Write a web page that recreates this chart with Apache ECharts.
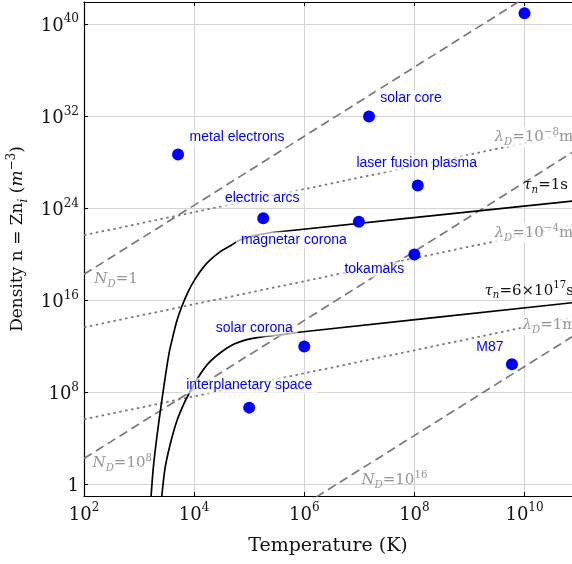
<!DOCTYPE html>
<html><head><meta charset="utf-8">
<script src="https://cdn.jsdelivr.net/npm/echarts@6/dist/echarts.min.js"></script>
<style>html,body{margin:0;padding:0;background:#fff}#c{width:572px;height:564px}</style>
</head><body><div id="c"></div>
<script>
// ---- data ----
const pointNames = ['metal electrons','electric arcs','solar core','laser fusion plasma','magnetar corona','tokamaks','solar corona','interplanetary space','M87',''];
const pointT = [5.1e3, 1.8e5, 1.5e7, 1.15e8, 9.8e6, 1e8, 1e6, 1e5, 5.9e9, 1e10];
const pointN = [5e28, 1.4e23, 1e32, 1e26, 7e22, 1e20, 1e12, 5e6, 3e10, 9e40];

// Debye-number lines (N_D)
const nd1T = [100, 1e10];      const nd1N = [1.9e18, 1.9e42];
const nd8T = [100, 7.3e10];    const nd8N = [190, 7.2e28];
const nd16T = [1e6, 7.3e10];   const nd16N = [1.9e-2, 7.2e12];
// Debye-length lines (lambda_D)
const ldm8T = [100, 7.3e10];   const ldm8N = [4.8e21, 3.5e30];
const ldm4T = [100, 7.3e10];   const ldm4N = [4.8e13, 3.5e22];
const ld0T = [100, 7.3e10];    const ld0N = [4.8e5, 3.5e14];
// tau_n curves
const tau1T = [1.65e3, 1.8e3, 2.0e3, 2.3e3, 2.85e3, 3.5e3, 3.9e3, 4.8e3, 5.95e3, 7.8e3, 1.06e4, 1.69e4, 2.95e4, 4.8e4, 6.8e4, 1.2e5, 2.4e5, 7.3e10];
const tau1N = [9e-2, 2e1, 2e3, 3.5e5, 5e8, 2.6e11, 2.6e12, 1.45e14, 2.9e15, 5.9e16, 8.5e17, 1.7e19, 1.7e20, 6.8e20, 1.8e21, 4.2e21, 7.8e21, 4.4e24];
const tau2T = [2.58e3, 2.96e3, 3.65e3, 4.8e3, 6.35e3, 8.4e3, 1.15e4, 1.81e4, 3.16e4, 5.2e4, 8.4e4, 1.6e5, 3.4e5, 9.6e5, 7.3e10];
const tau2N = [9e-2, 26, 2.8e3, 3e5, 8.3e6, 1.2e8, 1.74e9, 3.5e10, 3.6e11, 1.6e12, 3.7e12, 6.6e12, 1.02e13, 1.95e13, 6.5e15];

// annotation texts and their anchor points (data space)
const annoTexts = ['{i|N}{sub|D}{r|=1}', '{i|N}{sub|D}{r|=10}{sup|8}', '{i|N}{sub|D}{r|=10}{sup|16}',
  '{i|λ}{sub|D}{r|=10}{sup|−8}{r|m}', '{i|λ}{sub|D}{r|=10}{sup|−4}{r|m}', '{i|λ}{sub|D}{r|=1m}',
  '{ti|τ}{tsub|n}{t|=1s}', '{ti|τ}{tsub|n}{t|=6×10}{tsup|17}{t|s}'];
const annoT = [151, 140, 1.07e7, 2.57e9, 2.57e9, 8.3e9, 9.3e9, 1.84e9];
const annoN = [7.4e17, 77, 2.6, 1.6e30, 7.4e21, 7.5e13, 1.05e26, 7.2e16];
const annoBg = [false, false, false, true, true, true, false, false];

// axis ticks
const xTickValues = [1e2, 1e4, 1e6, 1e8, 1e10];
const xTickExps = ['2', '4', '6', '8', '10'];
const yTickValues = [1, 1e8, 1e16, 1e24, 1e32, 1e40];
const yTickExps = ['', '8', '16', '24', '32', '40'];

// ---- styling / layout ----
const labelOffsets = [[59,-17],[-1,-20],[42,-18],[-1,-22],[-65,18],[-40,15],[-50,-18],[0,-22],[-22,-17],[0,-22]];
const SERIF = 'DejaVu Serif';
const SANS = 'Liberation Sans';

function zip(a, b) { return a.map((v, i) => [v, b[i]]); }
function findIdx(vals, v) {
  for (let i = 0; i < vals.length; i++) if (Math.abs(Math.log10(v) - Math.log10(vals[i])) < 1e-6) return i;
  return -1;
}
const tickRich = {
  b: { fontFamily: SERIF, fontSize: 18, lineHeight: 22, verticalAlign: 'bottom', color: '#111' },
  s: { fontFamily: SERIF, fontSize: 12, lineHeight: 12, verticalAlign: 'top', color: '#111' }
};
const annoRich = (col, fs) => ({
  r: { fontFamily: SERIF, fontSize: fs, lineHeight: 20, color: col },
  i: { fontFamily: SERIF, fontSize: fs, lineHeight: 20, fontStyle: 'italic', color: col },
  sub: { fontFamily: SERIF, fontSize: fs * 0.68, lineHeight: 12, verticalAlign: 'bottom', fontStyle: 'italic', color: col },
  sup: { fontFamily: SERIF, fontSize: fs * 0.68, lineHeight: 12, verticalAlign: 'top', color: col }
});
const gRich = annoRich('#969696', 15);
const tRich = annoRich('#111', 15);
const rich = Object.assign({}, gRich, {
  t: tRich.r, ti: tRich.i, tsub: tRich.sub, tsup: tRich.sup
});

const dashed = { color: '#7a7a7a', width: 1.7, type: [9, 5] };
const dotted = { color: '#7a7a7a', width: 1.8, type: [2.5, 3.5] };
const solid = { color: '#000', width: 1.7 };

function lineSeries(T, N, style, smooth) {
  return { type: 'line', data: zip(T, N), showSymbol: false, symbol: 'none', lineStyle: style,
           smooth: smooth ? 0.25 : false, clip: true, z: 2, silent: true, animation: false };
}

const chart = echarts.init(document.getElementById('c'), null, { renderer: 'canvas' });
chart.setOption({
  animation: false,
  backgroundColor: '#fff',
  grid: { left: 84, right: 0, top: 2, bottom: 68, containLabel: false, outerBoundsMode: 'none' },
  xAxis: [{
    type: 'log', logBase: 10, min: 100, max: 7.28e10, position: 'bottom',
    name: 'Temperature (K)', nameLocation: 'middle', nameGap: 41,
    nameTextStyle: { fontFamily: SERIF, fontSize: 19, color: '#111' },
    axisLine: { show: true, lineStyle: { color: '#000', width: 1.2 } },
    axisTick: { show: true, inside: true, length: 4, customValues: xTickValues, lineStyle: { color: '#000' } },
    axisLabel: { show: true, margin: 6, customValues: xTickValues, rich: tickRich,
      formatter: v => { const k = findIdx(xTickValues, v); return k < 0 ? '' : '{b|10}{s|' + xTickExps[k] + '}'; } },
    splitLine: { show: true, lineStyle: { color: '#d4d4d4', width: 1 } },
    minorTick: { show: false }, minorSplitLine: { show: false }
  }, {
    type: 'log', logBase: 10, min: 100, max: 7.28e10, position: 'top',
    axisLine: { show: true, lineStyle: { color: '#000', width: 1.2 } },
    axisTick: { show: true, inside: true, length: 4, customValues: xTickValues, lineStyle: { color: '#000' } },
    axisLabel: { show: false }, splitLine: { show: false }
  }],
  yAxis: {
    type: 'log', logBase: 10, min: 0.105, max: 8.7e41,
    name: '{r|Density n = Zn}{i|i}{r| (}{m|m}{sup|−3}{r|)}', nameLocation: 'middle', nameGap: 42, nameRotate: 90,
    nameTextStyle: { padding: [0, 0, 0, 20], rich: {
      r: { fontFamily: SERIF, fontSize: 17, lineHeight: 24, color: '#111' },
      m: { fontFamily: SERIF, fontSize: 17, lineHeight: 24, fontStyle: 'italic', color: '#111' },
      i: { fontFamily: SERIF, fontSize: 12, lineHeight: 16, fontStyle: 'italic', verticalAlign: 'bottom', color: '#111' },
      sup: { fontFamily: SERIF, fontSize: 12, lineHeight: 14, verticalAlign: 'top', color: '#111' }
    } },
    axisLine: { show: true, lineStyle: { color: '#000', width: 1.2 } },
    axisTick: { show: true, inside: true, length: 4, customValues: yTickValues, lineStyle: { color: '#000' } },
    axisLabel: { show: true, margin: 5, customValues: yTickValues, rich: tickRich,
      formatter: v => { const k = findIdx(yTickValues, v); if (k < 0) return ''; return yTickExps[k] === '' ? '{b|1}' : '{b|10}{s|' + yTickExps[k] + '}'; } },
    splitLine: { show: true, lineStyle: { color: '#d4d4d4', width: 1 } },
    minorTick: { show: false }, minorSplitLine: { show: false }
  },
  series: [
    lineSeries(nd1T, nd1N, dashed), lineSeries(nd8T, nd8N, dashed), lineSeries(nd16T, nd16N, dashed),
    lineSeries(ldm8T, ldm8N, dotted), lineSeries(ldm4T, ldm4N, dotted), lineSeries(ld0T, ld0N, dotted),
    lineSeries(tau1T, tau1N, solid, true), lineSeries(tau2T, tau2N, solid, true),
    {
      type: 'scatter', z: 5, silent: true, symbolSize: 1, itemStyle: { color: 'rgba(0,0,0,0)', opacity: 1 },
      data: annoT.map((t, i) => ({ value: [t, annoN[i]],
        label: { show: true, position: 'right', distance: 0, formatter: annoTexts[i], rich: rich,
                 backgroundColor: annoBg[i] ? 'rgba(255,255,255,0.8)' : 'transparent', padding: annoBg[i] ? [0, 2] : 0 } }))
    },
    {
      type: 'scatter', z: 6, silent: true, symbol: 'circle', symbolSize: 12,
      itemStyle: { color: '#0000ff', opacity: 1 },
      data: pointT.map((t, i) => ({ value: [t, pointN[i]], name: pointNames[i],
        label: { show: pointNames[i] !== '', position: 'inside', offset: labelOffsets[i], formatter: pointNames[i],
                 fontFamily: SANS, fontSize: 14, color: '#0000ff', opacity: 1, backgroundColor: 'rgba(255,255,255,0.65)', padding: [1, 5] } }))
    }
  ]
});
</script></body></html>
